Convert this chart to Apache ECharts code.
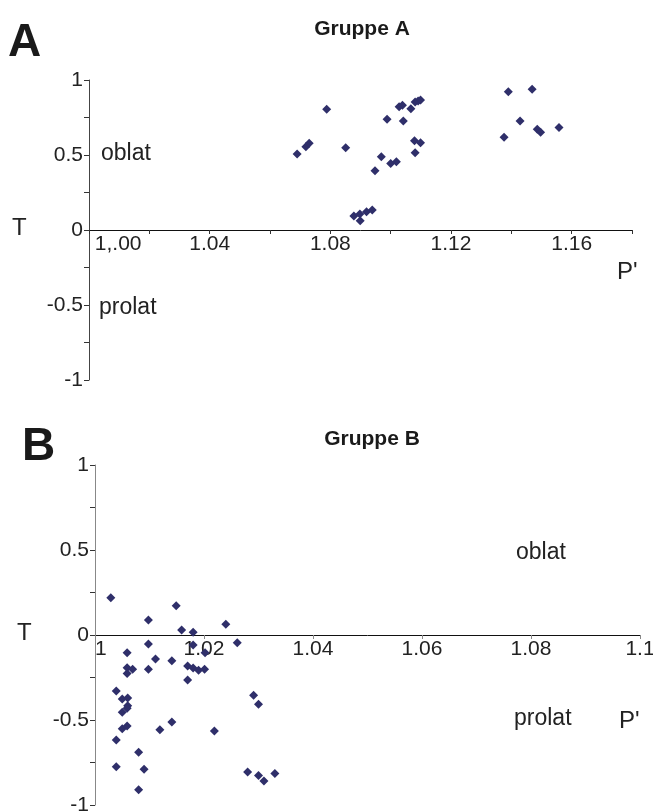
<!DOCTYPE html>
<html>
<head>
<meta charset="utf-8">
<script src="https://cdn.jsdelivr.net/npm/echarts@6/dist/echarts.min.js"></script>
<style>
  html, body { margin: 0; padding: 0; background: #fff; }
  #chart-container { width: 653px; height: 812px; }
</style>
</head>
<body>
<div id="chart-container"></div>
<script>
// Gruppe A: P' and T
var groupA_P = [1.0788, 1.0690, 1.0719, 1.0730, 1.0851, 1.0988, 1.1028, 1.1039, 1.1067, 1.1081,
                1.1091, 1.1099, 1.1042, 1.1079, 1.1099, 1.1081, 1.0969, 1.1000, 1.1019, 1.0948,
                1.0878, 1.0898, 1.0899, 1.0920, 1.0939,
                1.1390, 1.1469, 1.1429, 1.1376, 1.1486, 1.1497, 1.1558];
var groupA_T = [0.805, 0.507, 0.555, 0.578, 0.549, 0.738, 0.822, 0.831, 0.809, 0.853,
                0.860, 0.867, 0.727, 0.595, 0.582, 0.515, 0.489, 0.444, 0.455, 0.395,
                0.093, 0.107, 0.062, 0.122, 0.133,
                0.922, 0.938, 0.727, 0.618, 0.671, 0.651, 0.684];

// Gruppe B: P' and T
var groupB_P = [1.0029, 1.0098, 1.0149, 1.0159, 1.0180, 1.0240, 1.0261, 1.0098, 1.0180, 1.0202,
                1.0059, 1.0111, 1.0141, 1.0059, 1.0069, 1.0059, 1.0098, 1.0170, 1.0180, 1.0190,
                1.0201, 1.0170, 1.0039, 1.0050, 1.0060, 1.0060, 1.0059, 1.0050, 1.0050, 1.0059,
                1.0119, 1.0141, 1.0219, 1.0039, 1.0080, 1.0039, 1.0090, 1.0080,
                1.0291, 1.0300, 1.0280, 1.0300, 1.0310, 1.0330];
var groupB_T = [0.219, 0.088, 0.172, 0.029, 0.016, 0.063, -0.045, -0.053, -0.059, -0.104,
                -0.104, -0.141, -0.151, -0.192, -0.202, -0.227, -0.202, -0.182, -0.194, -0.208,
                -0.202, -0.265, -0.329, -0.376, -0.371, -0.416, -0.431, -0.455, -0.551, -0.535,
                -0.557, -0.512, -0.565, -0.618, -0.690, -0.775, -0.790, -0.910,
                -0.355, -0.408, -0.806, -0.827, -0.859, -0.814];

var yTicks = [-1, -0.5, 0, 0.5, 1];

function pairs(xs, ys) {
    return xs.map(function (x, i) { return [x, ys[i]]; });
}

var FONT = 'Liberation Sans';
var DOT = '#2f2f6a';

var chartDom = document.getElementById('chart-container');
var myChart = echarts.init(chartDom, null, { renderer: 'canvas' });

function yAxisFor(gridIndex, lineColor) {
    return {
        type: 'value',
        gridIndex: gridIndex,
        min: -1,
        max: 1,
        interval: 0.25,
        splitLine: { show: false },
        axisLine: { show: true, onZero: false, lineStyle: { color: lineColor, width: 1 } },
        axisTick: { show: true, length: 5, lineStyle: { color: '#333' } },
        axisLabel: {
            color: '#222',
            fontFamily: FONT,
            fontSize: 21,
            margin: 6,
            formatter: function (v) {
                var r = Math.round(v * 100) / 100;
                return yTicks.indexOf(r) >= 0 ? String(r) : '';
            }
        }
    };
}

var option = {
    animation: false,
    backgroundColor: '#fff',
    title: [
        { text: 'Gruppe A', left: 357, top: 14, textAlign: 'center',
          textStyle: { fontFamily: FONT, fontWeight: 'bold', fontSize: 21, color: '#1a1a1a' } },
        { text: 'Gruppe B', left: 367, top: 424, textAlign: 'center',
          textStyle: { fontFamily: FONT, fontWeight: 'bold', fontSize: 21, color: '#1a1a1a' } }
    ],
    grid: [
        { left: 89, right: 21, top: 80, height: 300, outerBoundsMode: 'none' },
        { left: 95, right: 13, top: 465, height: 340, outerBoundsMode: 'none' }
    ],
    xAxis: [
        {
            type: 'value',
            gridIndex: 0,
            min: 1,
            max: 1.18,
            interval: 0.02,
            offset: -150,   // move the whole axis up to T = 0
            splitLine: { show: false },
            axisLine: { onZero: false, lineStyle: { color: '#111', width: 1 } },
            axisTick: { length: 4, lineStyle: { color: '#333' } },
            axisLabel: {
                color: '#222',
                fontFamily: FONT,
                fontSize: 21,
                margin: 4,
                alignMinLabel: 'left',
                showMaxLabel: true,
                formatter: function (v) {
                    var k = Math.round((v - 1) * 100);
                    if (k === 0) return ' 1,.00';
                    return k % 4 === 0 ? v.toFixed(2) : '';
                }
            }
        },
        {
            type: 'value',
            gridIndex: 1,
            min: 1,
            max: 1.1,
            interval: 0.02,
            offset: -170,
            splitLine: { show: false },
            axisLine: { onZero: false, lineStyle: { color: '#111', width: 1 } },
            axisTick: { length: 4, lineStyle: { color: '#888' } },
            axisLabel: {
                color: '#222',
                fontFamily: FONT,
                fontSize: 21,
                margin: 4,
                alignMinLabel: 'left',
                showMaxLabel: true,
                formatter: function (v) {
                    return String(Math.round(v * 100) / 100);
                }
            }
        }
    ],
    yAxis: [yAxisFor(0, '#444'), yAxisFor(1, '#888')],
    graphic: [
        { type: 'text', left: 8, top: 20, style: { text: 'A', font: 'bold 46px "Liberation Sans"', fill: '#1a1a1a' } },
        { type: 'text', left: 22, top: 424, style: { text: 'B', font: 'bold 46px "Liberation Sans"', fill: '#1a1a1a' } },
        { type: 'text', left: 12, top: 216, style: { text: 'T', font: '24px "Liberation Sans"', fill: '#222' } },
        { type: 'text', left: 17, top: 621, style: { text: 'T', font: '24px "Liberation Sans"', fill: '#222' } },
        { type: 'text', left: 617, top: 260, style: { text: "P'", font: '24px "Liberation Sans"', fill: '#222' } },
        { type: 'text', left: 619, top: 709, style: { text: "P'", font: '24px "Liberation Sans"', fill: '#222' } },
        { type: 'text', left: 101, top: 142, style: { text: 'oblat', font: '23px "Liberation Sans"', fill: '#222' } },
        { type: 'text', left: 99, top: 296, style: { text: 'prolat', font: '23px "Liberation Sans"', fill: '#222' } },
        { type: 'text', left: 516, top: 541, style: { text: 'oblat', font: '23px "Liberation Sans"', fill: '#222' } },
        { type: 'text', left: 514, top: 707, style: { text: 'prolat', font: '23px "Liberation Sans"', fill: '#222' } }
    ],
    series: [
        {
            name: 'Gruppe A',
            type: 'scatter',
            xAxisIndex: 0,
            yAxisIndex: 0,
            symbol: 'diamond',
            symbolSize: 9,
            itemStyle: { color: DOT, opacity: 1 },
            data: pairs(groupA_P, groupA_T)
        },
        {
            name: 'Gruppe B',
            type: 'scatter',
            xAxisIndex: 1,
            yAxisIndex: 1,
            symbol: 'diamond',
            symbolSize: 9,
            itemStyle: { color: DOT, opacity: 1 },
            data: pairs(groupB_P, groupB_T)
        }
    ]
};

option && myChart.setOption(option);
</script>
</body>
</html>
